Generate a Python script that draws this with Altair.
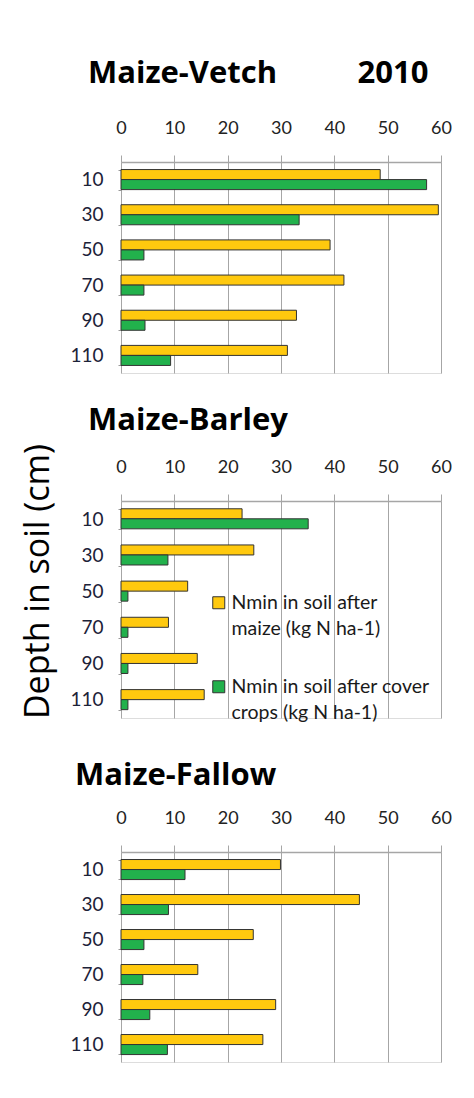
import altair as alt
import pandas as pd

depths = ["10", "30", "50", "70", "90", "110"]
series = ["Nmin in soil after maize (kg N ha-1)",
          "Nmin in soil after cover crops (kg N ha-1)"]
colors = ["#FFC90E", "#22B14C"]

vetch_maize = [48.6, 59.5, 39.2, 41.8, 32.9, 31.2]
vetch_cover = [57.3, 33.4, 4.3, 4.3, 4.5, 9.3]
barley_maize = [22.7, 24.9, 12.5, 8.9, 14.3, 15.6]
barley_cover = [35.1, 8.8, 1.3, 1.3, 1.3, 1.3]
fallow_maize = [29.9, 44.7, 24.8, 14.4, 29.0, 26.6]
fallow_cover = [12.0, 8.9, 4.3, 4.1, 5.4, 8.7]

x_ticks = [0, 10, 20, 30, 40, 50, 60]
NB = "\u00a0"


def make_df(maize, cover):
    rows = []
    for d, m, c in zip(depths, maize, cover):
        rows.append({"depth": d, "series": series[0], "value": m})
        rows.append({"depth": d, "series": series[1], "value": c})
    return pd.DataFrame(rows)


legend_label_expr = (
    "[slice(datum.label, 0, lastindexof(slice(datum.label, 0, indexof(datum.label, ' (')), ' ')),"
    " slice(datum.label, lastindexof(slice(datum.label, 0, indexof(datum.label, ' (')), ' ') + 1)]"
)


def panel(df, title, height, dx, offset, with_legend=False, with_ytitle=False):
    grey = "#a6a6a6"
    x = alt.X(
        "value:Q",
        scale=alt.Scale(domain=[0, 60], nice=False, zero=True),
        axis=alt.Axis(
            orient="top", values=x_ticks, title=None, grid=True,
            gridColor=grey, gridWidth=1, domainColor=grey, domainWidth=1.5,
            tickColor=grey, tickSize=7, tickWidth=1, labelPadding=18,
            labelFlush=False, labelFont="Lato", labelFontSize=18,
            labelColor="#222222",
        ),
    )
    yaxis_kwargs = dict(
        domain=False, ticks=True, tickBand="extent", tickSize=3, tickColor="#999999",
        labelPadding=15, labelFont="Lato", labelFontSize=19, labelColor="#1c2238",
        grid=False,
    )
    if with_ytitle:
        yaxis_kwargs.update(
            title="Depth in soil (cm)", titleFont="Open Sans", titleFontSize=34,
            titleFontWeight="normal", titleColor="#000000", titleX=-73,
            titleY=80, titleAlign="center", titleBaseline="alphabetic", titleAngle=270,
        )
    else:
        yaxis_kwargs["title"] = None
    y = alt.Y("depth:N", sort=depths,
              scale=alt.Scale(paddingInner=0.43, paddingOuter=0.215),
              axis=alt.Axis(**yaxis_kwargs))
    if with_legend:
        legend = alt.Legend(
            orient="none", legendX=83, legendY=87, title=None, padding=5,
            symbolType="square", symbolSize=144, symbolStrokeColor="#333333",
            symbolStrokeWidth=1, labelFont="Lato", labelFontSize=19.5,
            labelColor="#1a1a1a", labelOffset=3, rowPadding=37,
            labelLimit=300, labelExpr=legend_label_expr,
        )
    else:
        legend = None
    color = alt.Color("series:N", sort=series,
                      scale=alt.Scale(domain=series, range=colors), legend=legend)
    return alt.Chart(df).mark_bar(stroke="#333333", strokeWidth=1).encode(
        x=x, y=y,
        yOffset=alt.YOffset("series:N", sort=series),
        color=color,
    ).properties(
        width=320, height=height,
        title=alt.TitleParams(
            text=title, anchor="start", dx=dx, offset=offset, font="Open Sans",
            fontSize=31, fontWeight="bold", color="#000000", frame="group",
        ),
    )


p1 = panel(make_df(vetch_maize, vetch_cover), "Maize-Vetch" + NB * 10 + "2010", 211, -33, 29)
p2 = panel(make_df(barley_maize, barley_cover), "Maize-Barley", 217, -33, 6,
           with_legend=True, with_ytitle=True)
p3 = panel(make_df(fallow_maize, fallow_cover), "Maize-Fallow", 210, -46, 17)

chart = alt.vconcat(p1, p2, p3, spacing=30).resolve_scale(color="independent").properties(
    padding={"left": 12, "top": 49, "right": 0, "bottom": 0},
    background="#ffffff",
).configure_view(stroke=None).configure(
    style={"guide-label": {"lineHeight": 26}}
)

chart.save("out.html", embed_options={"renderer": "svg", "actions": False})
